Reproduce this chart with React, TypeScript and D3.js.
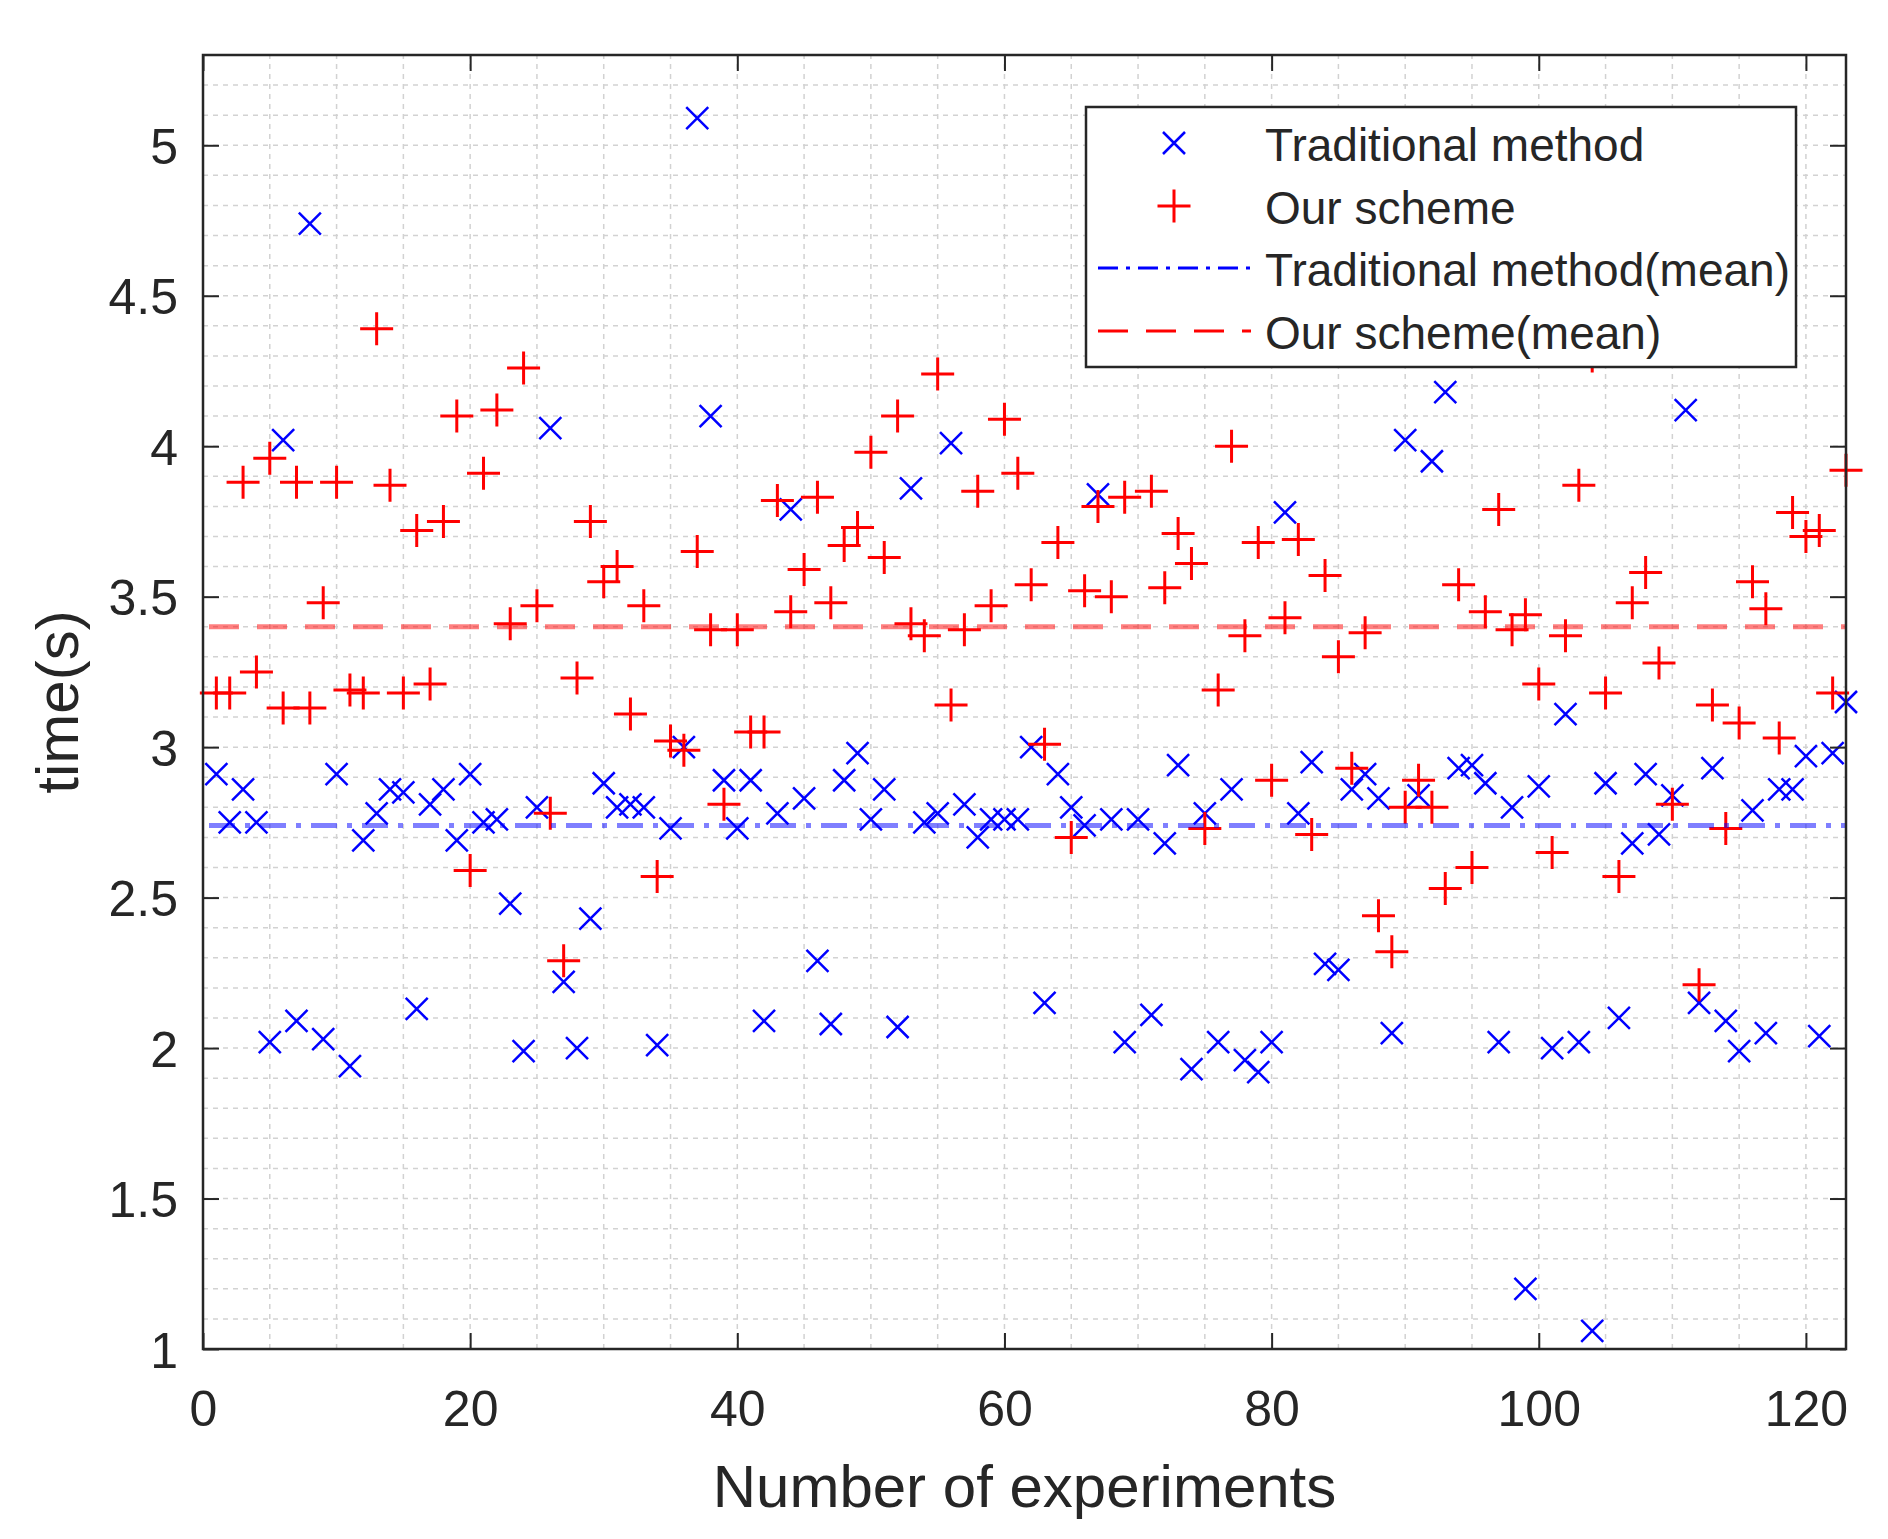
import { useEffect, useRef } from 'react'
import * as d3 from 'd3'

const traditional = [
  2.91, 2.75, 2.86, 2.75, 2.02, 4.02, 2.09, 4.74, 2.03, 2.91,
  1.94, 2.69, 2.78, 2.86, 2.85, 2.13, 2.81, 2.86, 2.69, 2.91,
  2.75, 2.76, 2.48, 1.99, 2.80, 4.06, 2.22, 2.00, 2.43, 2.88,
  2.80, 2.81, 2.80, 2.01, 2.73, 3.00, 5.09, 4.10, 2.89, 2.73,
  2.89, 2.09, 2.78, 3.79, 2.83, 2.29, 2.08, 2.89, 2.98, 2.76,
  2.86, 2.07, 3.86, 2.75, 2.78, 4.01, 2.81, 2.70, 2.76, 2.76,
  2.76, 3.00, 2.15, 2.91, 2.80, 2.74, 3.84, 2.76, 2.02, 2.76,
  2.11, 2.68, 2.94, 1.93, 2.78, 2.02, 2.86, 1.96, 1.92, 2.02,
  3.78, 2.78, 2.95, 2.28, 2.26, 2.86, 2.91, 2.83, 2.05, 4.02,
  2.84, 3.95, 4.18, 2.93, 2.94, 2.88, 2.02, 2.80, 1.20, 2.87,
  2.00, 3.11, 2.02, 1.06, 2.88, 2.10, 2.68, 2.91, 2.71, 2.84,
  4.12, 2.15, 2.93, 2.09, 1.99, 2.79, 2.05, 2.86, 2.86, 2.97,
  2.04, 2.98, 3.15,
]

const ourScheme = [
  3.18, 3.18, 3.88, 3.25, 3.96, 3.13, 3.88, 3.13, 3.48, 3.88,
  3.19, 3.18, 4.39, 3.87, 3.18, 3.72, 3.21, 3.75, 4.10, 2.59,
  3.91, 4.12, 3.41, 4.26, 3.47, 2.78, 2.29, 3.23, 3.75, 3.55,
  3.60, 3.11, 3.47, 2.57, 3.02, 2.99, 3.65, 3.39, 2.81, 3.39,
  3.05, 3.05, 3.82, 3.45, 3.59, 3.83, 3.48, 3.67, 3.73, 3.98,
  3.63, 4.10, 3.41, 3.37, 4.24, 3.14, 3.39, 3.85, 3.47, 4.09,
  3.91, 3.54, 3.01, 3.68, 2.70, 3.52, 3.80, 3.50, 3.83, 4.45,
  3.85, 3.53, 3.71, 3.61, 2.73, 3.19, 4.00, 3.37, 3.68, 2.89,
  3.43, 3.69, 2.71, 3.57, 3.30, 2.93, 3.38, 2.44, 2.32, 2.80,
  2.89, 2.80, 2.53, 3.54, 2.60, 3.45, 3.79, 3.39, 3.44, 3.21,
  2.65, 3.37, 3.87, 4.30, 3.18, 2.57, 3.48, 3.58, 3.28, 2.81,
  4.40, 2.21, 3.14, 2.73, 3.08, 3.55, 3.46, 3.03, 3.78, 3.70,
  3.72, 3.18, 3.92,
]

const meanValues = [2.74, 3.40] // traditional, our scheme
const xTicks = [0, 20, 40, 60, 80, 100, 120]
const yTicks = [1, 1.5, 2, 2.5, 3, 3.5, 4, 4.5, 5]
const legendLabels = [
  'Traditional method',
  'Our scheme',
  'Traditional method(mean)',
  'Our scheme(mean)',
]

const W = 1888
const H = 1539
const M = { top: 55, right: 42, bottom: 190, left: 203 }
const FONT = '"Liberation Sans", Arial, sans-serif'
const INK = '#262626'
const TICK = 16

const CROSS = 'M-11,-11L11,11M-11,11L11,-11'
const PLUS = 'M-16.5,0H16.5M0,-16.5V16.5'

export default function App() {
  const svgRef = useRef<SVGSVGElement>(null)

  useEffect(() => {
    const svg = d3.select(svgRef.current)
    svg.selectAll('*').remove()

    const x = d3.scaleLinear().domain([0, 123]).range([M.left, W - M.right])
    const y = d3.scaleLinear().domain([1, 5.3]).range([H - M.bottom, M.top])
    const [x0, x1] = x.range()
    const [y0, y1] = y.range()

    svg.append('rect').attr('width', W).attr('height', H).attr('fill', '#fff')

    // ── grid (major + minor, same dashed style) ──
    const grid = svg.append('g').attr('stroke', '#d2d2d2').attr('stroke-width', 1.5)
      .attr('stroke-dasharray', '5 5')
    d3.range(5, 123, 5).forEach((v) => {
      grid.append('line').attr('x1', x(v)).attr('x2', x(v)).attr('y1', y0).attr('y2', y1)
    })
    d3.range(11, 53, 1).forEach((k) => {
      const v = k / 10
      grid.append('line').attr('x1', x0).attr('x2', x1).attr('y1', y(v)).attr('y2', y(v))
    })

    // ── scatter markers ──
    svg.append('g').selectAll('path').data(traditional).join('path')
      .attr('transform', (d, i) => `translate(${x(i + 1)},${y(d)})`)
      .attr('d', CROSS).attr('fill', 'none').attr('stroke', '#0000ff').attr('stroke-width', 2.5)

    svg.append('g').selectAll('path').data(ourScheme).join('path')
      .attr('transform', (d, i) => `translate(${x(i + 1)},${y(d)})`)
      .attr('d', PLUS).attr('fill', 'none').attr('stroke', '#ff0000').attr('stroke-width', 3)

    // ── mean lines ──
    const meanStyle = [
      { color: '#0000ff', dash: '26 10 5 10' },
      { color: '#ff0000', dash: '30 18' },
    ]
    meanValues.forEach((m, i) => {
      svg.append('line')
        .attr('x1', x(0) + 6).attr('x2', x1)
        .attr('y1', y(m)).attr('y2', y(m))
        .attr('stroke', meanStyle[i].color).attr('stroke-opacity', 0.5)
        .attr('stroke-width', 5).attr('stroke-dasharray', meanStyle[i].dash)
    })

    // ── axes ──
    const styleAxis = (g: d3.Selection<SVGGElement, unknown, null, undefined>) => {
      g.select('.domain').remove()
      g.selectAll('line').attr('stroke', INK).attr('stroke-width', 2)
    }
    const fmt = d3.format('~g')

    const gx = svg.append('g').attr('transform', `translate(0,${y0})`)
      .call(d3.axisBottom(x).tickValues(xTicks).tickSizeInner(-TICK).tickSizeOuter(0).tickFormat(fmt))
    styleAxis(gx)
    gx.selectAll('text').attr('y', 77).attr('dy', null)
      .attr('font-family', FONT).attr('font-size', 50).attr('fill', INK)

    const gy = svg.append('g').attr('transform', `translate(${x0},0)`)
      .call(d3.axisLeft(y).tickValues(yTicks).tickSizeInner(-TICK).tickSizeOuter(0).tickFormat(fmt))
    styleAxis(gy)
    gy.selectAll('text').attr('x', -25).attr('dy', 18)
      .attr('font-family', FONT).attr('font-size', 50).attr('fill', INK)

    const gt = svg.append('g').attr('transform', `translate(0,${y1})`)
      .call(d3.axisTop(x).tickValues(xTicks).tickSizeInner(-TICK).tickSizeOuter(0).tickFormat(() => ''))
    styleAxis(gt)

    const gr = svg.append('g').attr('transform', `translate(${x1},0)`)
      .call(d3.axisRight(y).tickValues(yTicks).tickSizeInner(-TICK).tickSizeOuter(0).tickFormat(() => ''))
    styleAxis(gr)

    svg.append('rect')
      .attr('x', x0).attr('y', y1).attr('width', x1 - x0).attr('height', y0 - y1)
      .attr('fill', 'none').attr('stroke', INK).attr('stroke-width', 2.5)

    // ── axis labels ──
    svg.append('text')
      .attr('x', (x0 + x1) / 2).attr('y', 1507)
      .attr('text-anchor', 'middle').attr('font-family', FONT).attr('font-size', 60).attr('fill', INK)
      .text('Number of experiments')
    svg.append('text')
      .attr('transform', `translate(78,${(y0 + y1) / 2}) rotate(-90)`)
      .attr('text-anchor', 'middle').attr('font-family', FONT).attr('font-size', 60).attr('fill', INK)
      .text('time(s)')

    // ── legend ──
    const leg = svg.append('g')
    leg.append('rect')
      .attr('x', 1086).attr('y', 107).attr('width', 710).attr('height', 260)
      .attr('fill', '#fff').attr('stroke', INK).attr('stroke-width', 2.5)
    const rowY = [143, 206, 268, 331]
    leg.append('path').attr('transform', `translate(1174,${rowY[0]})`)
      .attr('d', CROSS).attr('fill', 'none').attr('stroke', '#0000ff').attr('stroke-width', 2.5)
    leg.append('path').attr('transform', `translate(1174,${rowY[1]})`)
      .attr('d', PLUS).attr('fill', 'none').attr('stroke', '#ff0000').attr('stroke-width', 3)
    ;[2, 3].forEach((r, i) => {
      leg.append('line')
        .attr('x1', 1098).attr('x2', 1251).attr('y1', rowY[r]).attr('y2', rowY[r])
        .attr('stroke', meanStyle[i].color).attr('stroke-width', 3)
        .attr('stroke-dasharray', i === 0 ? '20 8 4 8' : '30 18')
    })
    legendLabels.forEach((lbl, i) => {
      leg.append('text')
        .attr('x', 1265).attr('y', rowY[i] + 18)
        .attr('font-family', FONT).attr('font-size', 46).attr('fill', INK)
        .text(lbl)
    })
  }, [])

  return (
    <svg
      ref={svgRef}
      width={W}
      height={H}
      viewBox={`0 0 ${W} ${H}`}
      style={{ position: 'absolute', left: 0, top: 0, display: 'block' }}
    />
  )
}
